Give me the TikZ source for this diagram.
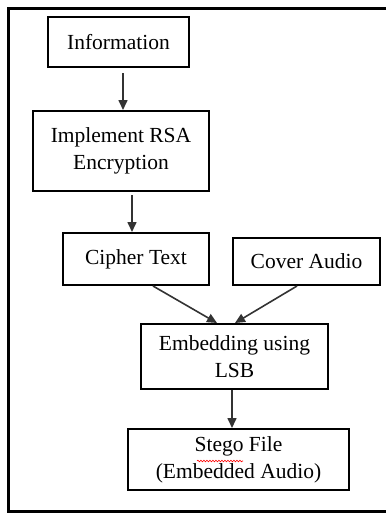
\documentclass[tikz,border=0pt]{standalone}
\usepackage{fontspec}
\setmainfont{Liberation Serif}
\usetikzlibrary{arrows.meta,decorations.pathmorphing}
\tikzset{
	stepbox/.style={draw=black, line width=2pt, align=center, inner sep=0pt,
		font=\fontsize{21.5}{27}\selectfont},
	flow/.style={draw=black!80, line width=1.6pt, -{Triangle[width=9pt,length=10pt]}}
}

\begin{document}
\begin{tikzpicture}[x=1pt, y=-1pt]
			%%%%% START %%%%%
			\useasboundingbox (0, 0) rectangle (386, 514);
			
			\draw[line width=3pt] (386, 8.5) -- (8.5, 8.5) -- (8.5, 511.5) -- (386, 511.5);
			
			\node[stepbox, minimum width=141pt, minimum height=50pt] (info) at (118.5, 42) {Information};
			\node[stepbox, minimum width=176pt, minimum height=80pt] (rsa) at (121, 151) {Implement RSA\\Encryption};
			
			\node[stepbox, minimum width=146pt, minimum height=52pt] (cipher) at (136, 259) {Cipher Text};
			\node[stepbox, minimum width=147pt, minimum height=47pt] (cover) at (306.5, 261.5) {Cover Audio};
			
			\node[stepbox, minimum width=187pt, minimum height=65pt] (embed) at (234.5, 356.5) {Embedding using\\LSB};
			\node[stepbox, minimum width=221pt, minimum height=61pt] (stego) at (238.5, 459.5) {Stego File\\(Embedded Audio)};
			
			\draw[red, line width=0.6pt, decorate, decoration={snake, amplitude=0.8pt, segment length=3pt}] (197, 461) -- (243, 461);
			
			\draw[flow, shorten <=5pt] ([xshift=4.5pt]info.south) -- ([xshift=2pt]rsa.north);
			\draw[flow, shorten <=3pt] ([xshift=11pt]rsa.south) -- ([xshift=-4pt]cipher.north);
			
			\draw[flow] ([xshift=17pt]cipher.south) -- ([xshift=-17.5pt]embed.north);
			\draw[flow] ([xshift=-9.5pt]cover.south) -- ([xshift=0.5pt]embed.north);
			
			\draw[flow] ([xshift=-2.5pt]embed.south) -- ([xshift=-6.5pt]stego.north);
			
			%%%%% END %%%%%
		\end{tikzpicture}
\end{document}
